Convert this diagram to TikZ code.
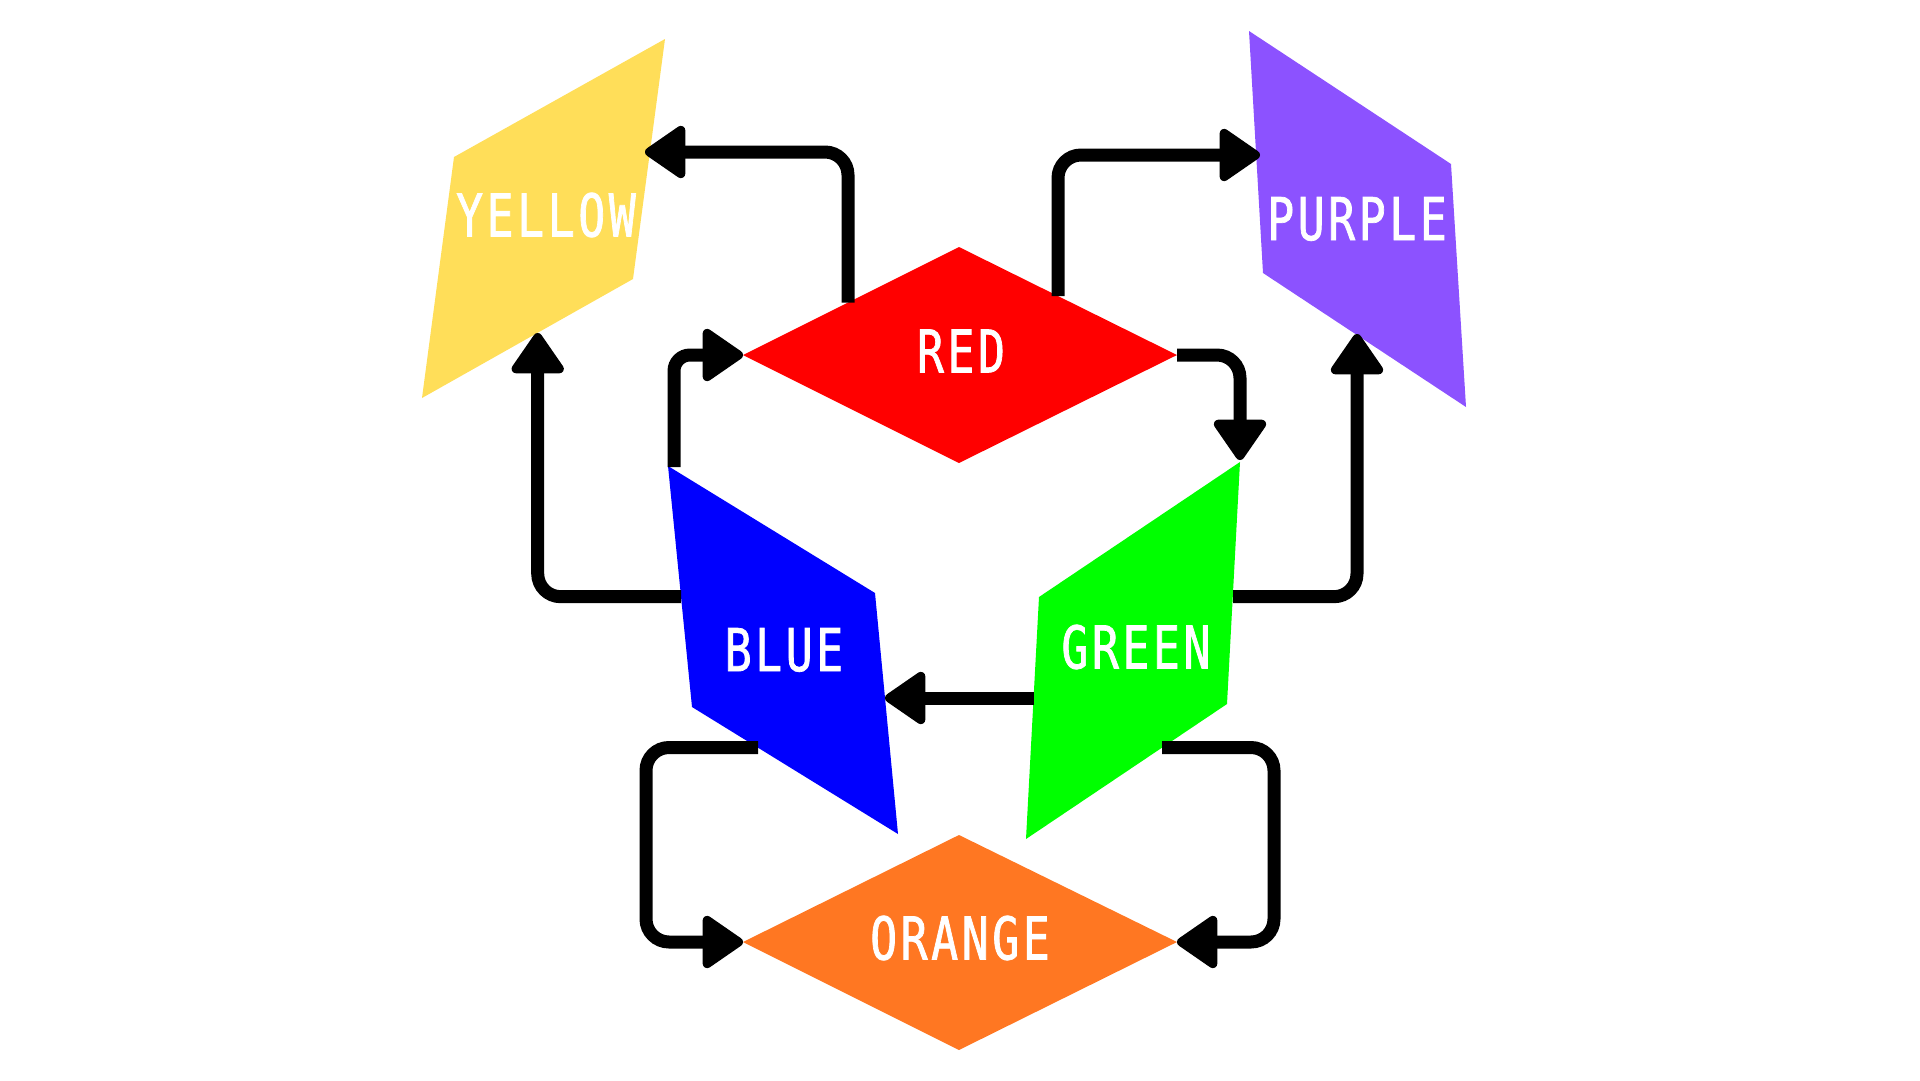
\documentclass[tikz,border=0pt]{standalone}
\usepackage{fontspec}
\newfontfamily\pixfont[FakeStretch=0.76,LetterSpace=6,FakeBold=1.2]{DejaVu Sans Mono}
\usetikzlibrary{arrows.meta}
\definecolor{cyellow}{HTML}{FFDE59}
\definecolor{cpurple}{HTML}{8C52FF}
\definecolor{corange}{HTML}{FF7722}
\definecolor{cred}{HTML}{FF0000}
\definecolor{cblue}{HTML}{0000FF}
\definecolor{cgreen}{HTML}{00FF00}
\begin{document}
\begin{tikzpicture}[x=1pt,y=-1pt,
  lbl/.style={text=white,font=\pixfont\fontsize{59}{59}\selectfont,inner sep=0pt},
  conn/.style={line width=13pt,rounded corners=23pt,-{Triangle[length=44pt,width=58pt,round,line width=9pt]}},
  shapefill/.style={fill=#1,draw=none}
]
\useasboundingbox (0,0) rectangle (1920,1080);
% shapes
\fill[shapefill=cyellow] (454,157) -- (665,39) -- (633,279) -- (422,398) -- cycle;
\fill[shapefill=cred] (743,355) -- (959,247) -- (1177,355) -- (959,463) -- cycle;
\fill[shapefill=cpurple] (1249,31) -- (1451,164) -- (1466,407) -- (1263,273) -- cycle;
\fill[shapefill=cblue] (668,466) -- (875,593) -- (898,834) -- (692,707) -- cycle;
\fill[shapefill=cgreen] (1240,462) -- (1039,597) -- (1026,839) -- (1227,704) -- cycle;
\fill[shapefill=corange] (743,942) -- (959,835) -- (1177,942) -- (959,1050) -- cycle;
% labels
\node[lbl] (yellow) at (546,215) {YELLOW};
\node[lbl] (red) at (961,351) {RED};
\node[lbl] (purple) at (1357,219) {PURPLE};
\node[lbl] (blue) at (784,650) {BLUE};
\node[lbl] (green) at (1136,647) {GREEN};
\node[lbl] (orange) at (960,938) {ORANGE};
% attach points
\coordinate (red-ul) at (848,302.5);
\coordinate (red-ur) at (1058,296);
\coordinate (red-e) at (1177,355);
\coordinate (red-w) at (743,355);
\coordinate (yellow-in) at (645,152);
\coordinate (yellow-bot) at (537.7,333);
\coordinate (purple-in) at (1260,155);
\coordinate (purple-bot) at (1357,334);
\coordinate (green-top) at (1240,460);
\coordinate (green-w) at (1034,698);
\coordinate (green-e) at (1233,596.7);
\coordinate (green-se) at (1162,747.5);
\coordinate (blue-top) at (674,467);
\coordinate (blue-w) at (681,596.7);
\coordinate (blue-e) at (885,698);
\coordinate (blue-sw) at (758,747.5);
\coordinate (orange-w) at (743,942);
\coordinate (orange-e) at (1177,942);
% connectors
\draw[conn] (red-ul) |- (yellow-in);
\draw[conn] (red-ur) |- (purple-in);
\draw[conn] (red-e) -| (green-top);
\draw[conn,rounded corners=16pt] (blue-top) |- (red-w);
\draw[conn] (blue-w) -| (yellow-bot);
\draw[conn] (green-e) -| (purple-bot);
\draw[conn] (green-w) -- (blue-e);
\draw[conn] (blue-sw) -- ++(-112,0) |- (orange-w);
\draw[conn] (green-se) -- ++(112,0) |- (orange-e);
\end{tikzpicture}
\end{document}
